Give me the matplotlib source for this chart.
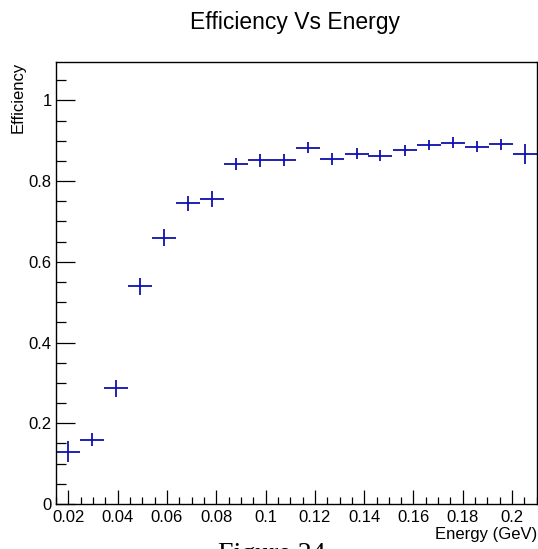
import matplotlib
matplotlib.use("Agg")
import matplotlib.pyplot as plt
from matplotlib.ticker import MultipleLocator

# bin centres (GeV), efficiency and its error per bin
energy = [0.0199, 0.0296, 0.0394, 0.0491, 0.0589, 0.0686, 0.0784, 0.0881, 0.0979, 0.1076,
          0.1174, 0.1271, 0.1369, 0.1466, 0.1564, 0.1661, 0.1759, 0.1856, 0.1954, 0.2051]
efficiency = [0.130, 0.159, 0.287, 0.539, 0.660, 0.745, 0.756, 0.843, 0.851, 0.853,
              0.883, 0.855, 0.868, 0.863, 0.876, 0.889, 0.895, 0.885, 0.891, 0.867]
eff_err = [0.025, 0.016, 0.021, 0.021, 0.021, 0.018, 0.020, 0.015, 0.016, 0.015,
           0.014, 0.014, 0.014, 0.014, 0.014, 0.013, 0.013, 0.014, 0.013, 0.025]
half_width = 0.004875

plt.rcParams['font.family'] = ['Liberation Sans', 'DejaVu Sans']

W, H = 538, 549
fig = plt.figure(figsize=(W / 100, H / 100), dpi=100)
ax = fig.add_axes([56 / W, 1 - 504 / H, (537 - 56) / W, (504 - 62) / H])

ax.errorbar(energy, efficiency, xerr=half_width, yerr=eff_err, fmt='none',
            ecolor='#1010b0', elinewidth=1.3, capsize=0)

ax.set_xlim(0.015, 0.2101)
ax.set_ylim(0, 1.095)

ax.xaxis.set_major_locator(MultipleLocator(0.02))
ax.xaxis.set_minor_locator(MultipleLocator(0.005))
ax.yaxis.set_major_locator(MultipleLocator(0.2))
ax.yaxis.set_minor_locator(MultipleLocator(0.05))

ax.set_xticks([0.02, 0.04, 0.06, 0.08, 0.1, 0.12, 0.14, 0.16, 0.18, 0.2])
ax.set_xticklabels(['0.02', '0.04', '0.06', '0.08', '0.1', '0.12', '0.14', '0.16', '0.18', '0.2'])
ax.set_yticks([0, 0.2, 0.4, 0.6, 0.8, 1.0])
ax.set_yticklabels(['0', '0.2', '0.4', '0.6', '0.8', '1'])

ax.tick_params(axis='both', which='both', direction='in', top=False, right=False,
               labelsize=12, colors='black', width=0.9)
ax.tick_params(axis='x', which='major', length=10, pad=4)
ax.tick_params(axis='x', which='minor', length=5)
ax.tick_params(axis='y', which='major', length=14, pad=3)
ax.tick_params(axis='y', which='minor', length=7)
for s in ax.spines.values():
    s.set_linewidth(1.0)

fig.text(537 / W, 1 - 534 / H, 'Energy (GeV)', ha='right', va='center', fontsize=12)
fig.text(18 / W, 1 - 62 / H, 'Efficiency', ha='center', va='top', rotation=90, fontsize=12)
fig.text(295 / W, 1 - 23 / H, 'Efficiency Vs Energy', ha='center', va='center', fontsize=16.5)

# caption below the canvas, only its top edge falls inside the frame
fig.text(272 / W, 1 - 542 / H, 'Figure 24', ha='center', va='top',
         fontsize=20, family='Liberation Serif')

fig.savefig('out.png', dpi=100)
